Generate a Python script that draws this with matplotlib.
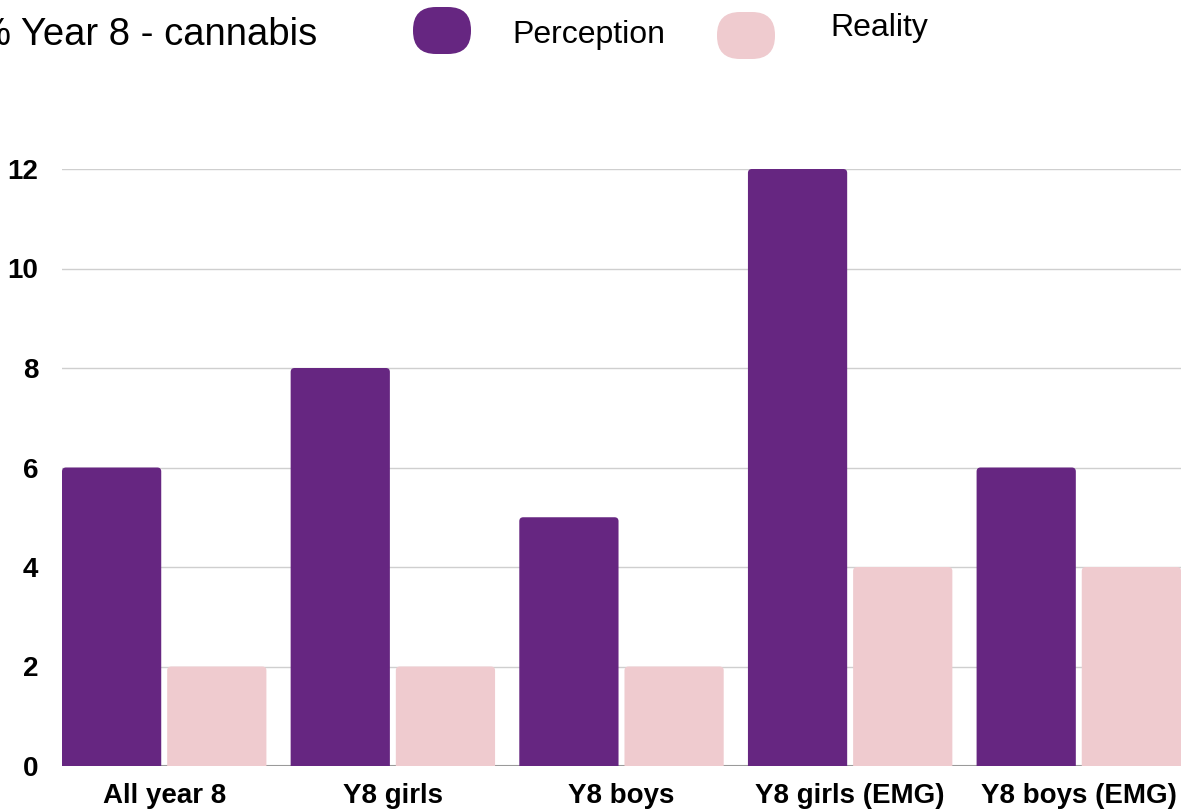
import matplotlib
matplotlib.use("Agg")
import matplotlib.pyplot as plt
from matplotlib.patches import FancyBboxPatch, PathPatch
from matplotlib.path import Path
import numpy as np

# Data
categories = ["All year 8", "Y8 girls", "Y8 boys", "Y8 girls (EMG)", "Y8 boys (EMG)"]
perception = [6, 8, 5, 12, 6]
reality = [2, 2, 2, 4, 4]
series_names = ["Perception", "Reality"]
series_colors = ["#662681", "#EFCBCF"]
yticks = [0, 2, 4, 6, 8, 10, 12]
title = "% Year 8 - cannabis"

plt.rcParams['font.family'] = ['Liberation Sans', 'DejaVu Sans']

W, H = 1190, 811
fig = plt.figure(figsize=(W / 100, H / 100), dpi=100)
ax = fig.add_axes([62 / W, 1 - 766 / H, (1181 - 62) / W, (766 - 169) / H])

x = np.arange(len(categories))
width = 0.434
offset = 0.23
xmin, xmax = -offset - width / 2, len(categories) - 1 + offset + width / 2
ax.set_xlim(xmin, xmax)
ax.set_ylim(0, 12)

# pixels per data unit, for even corner rounding
bbox = ax.get_position()
px_x = bbox.width * W / (xmax - xmin)
px_y = bbox.height * H / 12
corner_px = 4.0
rx, ry = corner_px / px_x, corner_px / px_y


def top_rounded(x0, w, h):
    verts = [(x0, 0), (x0, h - ry), (x0, h), (x0 + rx, h),
             (x0 + w - rx, h), (x0 + w, h), (x0 + w, h - ry),
             (x0 + w, 0), (x0, 0)]
    codes = [Path.MOVETO, Path.LINETO, Path.CURVE3, Path.CURVE3,
             Path.LINETO, Path.CURVE3, Path.CURVE3, Path.LINETO, Path.CLOSEPOLY]
    return Path(verts, codes)


for vals, sign, color in zip([perception, reality], [-1, 1], series_colors):
    bars = ax.bar(x + sign * offset, vals, width, color=color, zorder=3)
    for b in bars:
        b.set_visible(False)
        ax.add_patch(PathPatch(top_rounded(b.get_x(), b.get_width(), b.get_height()),
                               facecolor=color, edgecolor='none', zorder=3,
                               clip_on=False))

ax.set_yticks(yticks)
ax.set_xticks(x)
ax.set_xticklabels(categories)
for lbl in ax.get_xticklabels() + ax.get_yticklabels():
    lbl.set_fontweight('bold')
    lbl.set_fontsize(20)
ax.tick_params(axis='y', length=0, pad=17)
ax.tick_params(axis='x', length=0, pad=12)
ax.yaxis.grid(True, color='#cfcfcf', linewidth=1, zorder=0)
ax.set_axisbelow(True)
for s in ax.spines.values():
    s.set_visible(False)
ax.axhline(0, color='#9a9a9a', linewidth=1.5, zorder=2)

# Header: title and legend, laid out in pixel coordinates
hdr = fig.add_axes([0, 0, 1, 1], zorder=5)
hdr.set_xlim(0, W)
hdr.set_ylim(H, 0)
hdr.axis('off')
hdr.patch.set_visible(False)

hdr.text(-23, 45, title, fontsize=27.5, va='baseline', ha='left')

legend_boxes = [(413, 7), (717, 12)]
legend_text = [(512, 43), (830, 36)]
for name, color, (bx, by), (tx, ty) in zip(series_names, series_colors,
                                             legend_boxes, legend_text):
    hdr.add_patch(FancyBboxPatch((bx, by), 58, 47,
                                 boxstyle="round,pad=0,rounding_size=23",
                                 facecolor=color, edgecolor='none'))
    hdr.text(tx, ty, name, fontsize=23, va='baseline', ha='left')

fig.savefig("out.png", dpi=100)
